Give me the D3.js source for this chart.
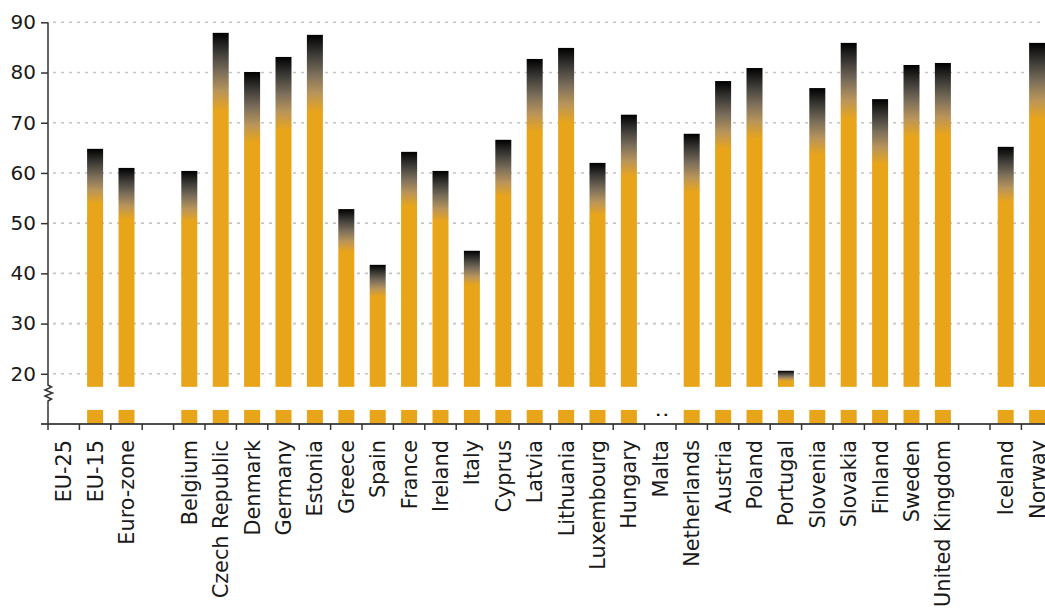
<!DOCTYPE html>
<html>
<head>
<meta charset="utf-8">
<script src="https://cdn.jsdelivr.net/npm/d3@7"></script>
<style>
  html, body { margin: 0; padding: 0; background: #fff; }
  svg { display: block; font-family: "DejaVu Sans", Verdana, sans-serif; }
</style>
</head>
<body>
<svg id="chart" width="1045" height="608"></svg>
<script>
// Slots along the x axis; null marks an empty spacer slot between groups
const categories = [
  "EU-25", "EU-15", "Euro-zone", null,
  "Belgium", "Czech Republic", "Denmark", "Germany", "Estonia", "Greece",
  "Spain", "France", "Ireland", "Italy", "Cyprus", "Latvia", "Lithuania",
  "Luxembourg", "Hungary", "Malta", "Netherlands", "Austria", "Poland",
  "Portugal", "Slovenia", "Slovakia", "Finland", "Sweden", "United Kingdom",
  null, "Iceland", "Norway"
];
// Values per slot; null = not available (":" shown for countries)
const values = [
  null, 64.8, 61.0, null,
  60.4, 87.9, 80.1, 83.1, 87.5, 52.8,
  41.7, 64.2, 60.4, 44.5, 66.6, 82.7, 84.9,
  62.0, 71.6, null, 67.8, 78.3, 80.9,
  20.6, 76.9, 85.9, 74.7, 81.5, 81.9,
  null, 65.2, 85.9
];
const notAvailable = ["Malta"];
const yTicks = [20, 30, 40, 50, 60, 70, 80, 90];
const yDomain = [10, 90];
const axisBreak = [12.8, 17.4]; // values hidden by the broken axis

const svg = d3.select("#chart");
const orange = "#E9A51A";
const step = 31.4;
const x0 = 48, yBase = 424, yTop = 22.3;

const x = d3.scaleBand()
  .domain(d3.range(categories.length))
  .range([x0, x0 + step * categories.length])
  .paddingInner(0).paddingOuter(0);
const y = d3.scaleLinear().domain(yDomain).range([yBase, yTop]);
const barW = 16;

// gridlines
svg.append("g").selectAll("line").data(yTicks).join("line")
  .attr("x1", 53).attr("x2", 1045)
  .attr("y1", d => y(d)).attr("y2", d => y(d))
  .attr("stroke", "#c4c4c4").attr("stroke-width", 1.6)
  .attr("stroke-dasharray", "3,5");

// per-bar gradients: black at the top fading to orange over the top fifth
const defs = svg.append("defs");
const bars = categories.map((c, i) => ({ c, i, v: values[i] })).filter(d => d.v != null);
bars.forEach(d => {
  const top = y(d.v);
  const g = defs.append("linearGradient")
    .attr("id", "grad" + d.i)
    .attr("gradientUnits", "userSpaceOnUse")
    .attr("x1", 0).attr("x2", 0)
    .attr("y1", top).attr("y2", top + 0.2 * (yBase - top));
  [[0, "#000000"], [0.25, "#3d3b37"], [0.5, "#7b6e5a"], [0.75, "#b9955a"], [1, orange]]
    .forEach(([o, col]) => g.append("stop").attr("offset", o).attr("stop-color", col));
});

const barG = svg.append("g");
// upper part above the axis break
barG.selectAll("rect.up").data(bars).join("rect")
  .attr("class", "up")
  .attr("x", d => x(d.i) + (x.bandwidth() - barW) / 2)
  .attr("width", barW)
  .attr("y", d => y(d.v))
  .attr("height", d => y(axisBreak[1]) - y(d.v))
  .attr("fill", d => `url(#grad${d.i})`);
// lower stub below the axis break
barG.selectAll("rect.low").data(bars).join("rect")
  .attr("class", "low")
  .attr("x", d => x(d.i) + (x.bandwidth() - barW) / 2)
  .attr("width", barW)
  .attr("y", y(axisBreak[0]))
  .attr("height", y(yDomain[0]) - y(axisBreak[0]))
  .attr("fill", orange);

// not-available markers
svg.append("g").selectAll("text").data(categories.map((c, i) => ({ c, i })).filter(d => notAvailable.includes(d.c)))
  .join("text")
  .attr("transform", d => `translate(${x(d.i) + x.bandwidth() / 2},${y(11.8)}) rotate(-90)`)
  .attr("text-anchor", "middle").attr("dy", "0.35em")
  .attr("font-size", 20).attr("fill", "#111")
  .text(":");

// y axis
const yAxis = svg.append("g").attr("transform", `translate(${x0},0)`)
  .call(d3.axisLeft(y).tickValues(yTicks).tickSize(7).tickPadding(5).tickSizeOuter(0));
yAxis.select(".domain").remove();
yAxis.selectAll(".tick line").attr("stroke", "#333").attr("stroke-width", 1.5);
yAxis.selectAll(".tick text").attr("font-size", 20).attr("fill", "#1a1a1a")
  .attr("font-family", "DejaVu Sans, Verdana, sans-serif");

// y axis line with zigzag break
const zig = [
  [0, yTop], [0, 385], [3.5, 387], [-3, 390], [4.5, 393], [-3, 396], [3.5, 399], [0, 401], [0, yBase]
];
svg.append("path")
  .attr("d", d3.line()(zig.map(([dx, yy]) => [x0 + dx, yy])))
  .attr("fill", "none").attr("stroke", "#333").attr("stroke-width", 1.5);

// x axis line and slot boundary ticks
svg.append("line").attr("x1", 41).attr("x2", 1045)
  .attr("y1", yBase).attr("y2", yBase)
  .attr("stroke", "#3a3a3a").attr("stroke-width", 2).attr("stroke-opacity", 0.9);
svg.append("g").selectAll("line").data(d3.range(categories.length)).join("line")
  .attr("x1", d => x(d)).attr("x2", d => x(d))
  .attr("y1", yBase).attr("y2", yBase + 6)
  .attr("stroke", "#333").attr("stroke-width", 1.5);

// category labels
svg.append("g").selectAll("text").data(categories.map((c, i) => ({ c, i })).filter(d => d.c))
  .join("text")
  .attr("transform", d => `translate(${x(d.i) + x.bandwidth() / 2},440) rotate(-90)`)
  .attr("text-anchor", "end").attr("dy", "0.36em")
  .attr("font-size", 20.8).attr("fill", "#1a1a1a")
  .text(d => d.c);
</script>
</body>
</html>
